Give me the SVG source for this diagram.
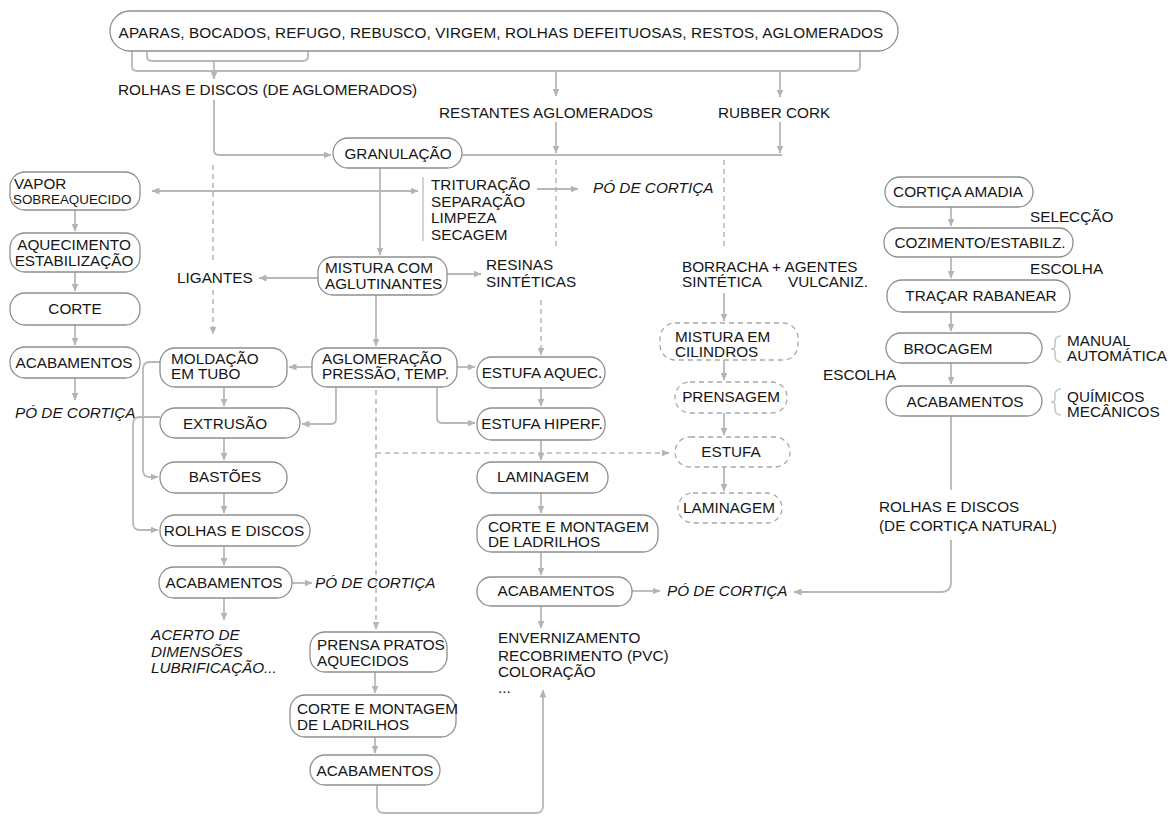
<svg xmlns="http://www.w3.org/2000/svg" width="1173" height="816" viewBox="0 0 1173 816">
<defs>
<marker id="ah" markerWidth="8" markerHeight="7" refX="7.5" refY="3.5" orient="auto-start-reverse" markerUnits="userSpaceOnUse">
<path d="M0,0 L8,3.5 L0,7 z" fill="#b4b4b4"/>
</marker>
<style>
.bx{fill:#fff;stroke:#8e8e8e;stroke-width:1.3}
.dbx{fill:#fff;stroke:#a8a8a8;stroke-width:1.3;stroke-dasharray:5 4}
.c{fill:none;stroke:#b8b8b8;stroke-width:1.8}
.d{fill:none;stroke:#b8b8b8;stroke-width:1.6;stroke-dasharray:5 4}
.br{fill:none;stroke:#c8c8c8;stroke-width:1.6}
text{font-family:"Liberation Sans",Arial,sans-serif;font-size:15.3px;fill:#161616}
.m{text-anchor:middle}
.i{font-style:italic}
.s{font-size:13.4px}
.w{letter-spacing:0.12px}
</style>
</defs>
<rect width="1173" height="816" fill="#fff"/>

<g id="connectors">
<path class="c" d="M147,42 V56 Q147,61 152,61 H303 Q308,61 308,56 V42"/>
<path class="c" d="M132,44 V66 Q132,71 137,71 H855 Q860,71 860,66 V50"/>
<path class="c" d="M214,61 V79" marker-end="url(#ah)"/>
<path class="c" d="M214,100 V150 Q214,155 219,155 H331" marker-end="url(#ah)"/>
<path class="c" d="M556,71 V96" marker-end="url(#ah)"/>
<path class="c" d="M780,71 V97" marker-end="url(#ah)"/>
<path class="c" d="M556,122 V153" marker-end="url(#ah)"/>
<path class="c" d="M780,122 V153" marker-end="url(#ah)"/>
<path class="c" d="M462,155 H782"/>
<path class="d" d="M556,160 V248"/>
<path class="d" d="M724,160 V250"/>
<path class="d" d="M213,165 V262"/>
<path class="d" d="M213,290 V334" marker-end="url(#ah)"/>
<path class="d" d="M541,300 V355" marker-end="url(#ah)"/>
<path class="c" d="M380,168 V255" marker-end="url(#ah)"/>
<path class="c" d="M418,191 H152" marker-start="url(#ah)" marker-end="url(#ah)"/>
<path class="br" d="M423,177 V241"/>
<path class="c" d="M537,189 H578" marker-end="url(#ah)"/>
<path class="c" d="M75,210 V231" marker-end="url(#ah)"/>
<path class="c" d="M75,272 V291" marker-end="url(#ah)"/>
<path class="c" d="M75,325 V345" marker-end="url(#ah)"/>
<path class="c" d="M75,378 V400" marker-end="url(#ah)"/>
<path class="c" d="M318,278 H259" marker-end="url(#ah)"/>
<path class="c" d="M447,274 H481" marker-end="url(#ah)"/>
<path class="c" d="M376,295 V346" marker-end="url(#ah)"/>
<path class="c" d="M312,367 H289" marker-end="url(#ah)"/>
<path class="c" d="M336,387 V419 Q336,424 331,424 H302" marker-end="url(#ah)"/>
<path class="c" d="M457,367 H475" marker-end="url(#ah)"/>
<path class="c" d="M437,387 V418 Q437,423 442,423 H475" marker-end="url(#ah)"/>
<path class="d" d="M376,390 V629" marker-end="url(#ah)"/>
<path class="d" d="M376,453 H669" marker-end="url(#ah)"/>
<path class="c" d="M224,387 V406" marker-end="url(#ah)"/>
<path class="c" d="M224,438 V460" marker-end="url(#ah)"/>
<path class="c" d="M224,493 V513" marker-end="url(#ah)"/>
<path class="c" d="M224,546 V565" marker-end="url(#ah)"/>
<path class="c" d="M224,598 V620" marker-end="url(#ah)"/>
<path class="c" d="M160,362 H150 Q143,362 143,369 V470 Q143,477 150,477 H158" marker-end="url(#ah)"/>
<path class="c" d="M160,417 H140 Q133,417 133,424 V523 Q133,530 140,530 H158" marker-end="url(#ah)"/>
<path class="c" d="M292,583 H312" marker-end="url(#ah)"/>
<path class="c" d="M541,388 V406" marker-end="url(#ah)"/>
<path class="c" d="M541,440 V460" marker-end="url(#ah)"/>
<path class="c" d="M541,493 V513" marker-end="url(#ah)"/>
<path class="c" d="M541,552 V575" marker-end="url(#ah)"/>
<path class="c" d="M541,606 V628" marker-end="url(#ah)"/>
<path class="c" d="M632,591 H660" marker-end="url(#ah)"/>
<path class="c" d="M375,672 V693" marker-end="url(#ah)"/>
<path class="c" d="M375,737 V753" marker-end="url(#ah)"/>
<path class="c" d="M377,785 V806 Q377,813 384,813 H536 Q543,813 543,806 V690" marker-end="url(#ah)"/>
<path class="c" d="M724,293 V321" marker-end="url(#ah)"/>
<path class="c" d="M724,360 V380" marker-end="url(#ah)"/>
<path class="c" d="M724,413 V435" marker-end="url(#ah)"/>
<path class="c" d="M724,467 V491" marker-end="url(#ah)"/>
<path class="c" d="M951,207 V226" marker-end="url(#ah)"/>
<path class="c" d="M951,257 V278" marker-end="url(#ah)"/>
<path class="c" d="M951,312 V331" marker-end="url(#ah)"/>
<path class="c" d="M951,363 V384" marker-end="url(#ah)"/>
<path class="c" d="M951,416 V490"/>
<path class="c" d="M951,540 V582 Q951,592 941,592 H794" marker-end="url(#ah)"/>
<path class="br" d="M1061,336 Q1055,336 1055,342 V346 Q1055,349 1051,349 Q1055,349 1055,352 V356 Q1055,362 1061,362"/>
<path class="br" d="M1061,389 Q1055,389 1055,395 V399 Q1055,402 1051,402 Q1055,402 1055,405 V409 Q1055,415 1061,415"/>
</g>

<g id="n-top"><rect class="bx" x="110" y="11" width="788" height="40" rx="20"/>
<text class="m w" x="501" y="38">APARAS, BOCADOS, REFUGO, REBUSCO, VIRGEM, ROLHAS DEFEITUOSAS, RESTOS, AGLOMERADOS</text></g>
<g id="l-rolhas-aglom"><text x="118" y="95">ROLHAS E DISCOS (DE AGLOMERADOS)</text></g>
<g id="l-restantes"><text x="439" y="118">RESTANTES AGLOMERADOS</text></g>
<g id="l-rubber"><text x="718" y="118">RUBBER CORK</text></g>
<g id="n-granulacao"><rect class="bx" x="333" y="138" width="129" height="30" rx="15"/>
<text class="m" x="398" y="159">GRANULAÇÃO</text></g>
<g id="n-vapor"><rect class="bx" x="10" y="172" width="130" height="38" rx="15"/>
<text x="14" y="189">VAPOR</text><text class="s" x="13" y="204">SOBREAQUECIDO</text></g>
<g id="n-aquecimento"><rect class="bx" x="10" y="233" width="130" height="39" rx="15"/>
<text class="m" x="74" y="250">AQUECIMENTO</text><text class="m" x="74" y="266">ESTABILIZAÇÃO</text></g>
<g id="n-corte"><rect class="bx" x="10" y="293" width="130" height="32" rx="15"/>
<text class="m" x="75" y="314">CORTE</text></g>
<g id="n-acab1"><rect class="bx" x="10" y="347" width="130" height="31" rx="15"/>
<text class="m" x="74" y="368">ACABAMENTOS</text></g>
<g id="l-po1"><text class="i" x="15" y="418">PÓ DE CORTIÇA</text></g>
<g id="l-trituracao"><text x="431" y="190">TRITURAÇÃO</text><text x="431" y="207">SEPARAÇÃO</text><text x="431" y="223">LIMPEZA</text><text x="431" y="240">SECAGEM</text></g>
<g id="l-po2"><text class="i" x="593" y="193">PÓ DE CORTIÇA</text></g>
<g id="l-ligantes"><text x="177" y="283">LIGANTES</text></g>
<g id="n-mistura"><rect class="bx" x="318" y="257" width="129" height="38" rx="15"/>
<text x="325" y="273">MISTURA COM</text><text x="325" y="289">AGLUTINANTES</text></g>
<g id="l-resinas"><text x="486" y="270">RESINAS</text><text x="486" y="287">SINTÉTICAS</text></g>
<g id="l-borracha"><text x="682" y="272">BORRACHA + AGENTES</text><text x="682" y="287">SINTÉTICA</text><text x="788" y="287">VULCANIZ.</text></g>
<g id="n-aglom"><rect class="bx" x="312" y="348" width="145" height="39" rx="15"/>
<text x="322" y="364">AGLOMERAÇÃO</text><text x="322" y="379">PRESSÃO, TEMP.</text></g>
<g id="n-moldacao"><rect class="bx" x="160" y="348" width="127" height="39" rx="15"/>
<text x="171" y="364">MOLDAÇÃO</text><text x="171" y="379">EM TUBO</text></g>
<g id="n-extrusao"><rect class="bx" x="160" y="408" width="140" height="30" rx="15"/>
<text class="m" x="225" y="429">EXTRUSÃO</text></g>
<g id="n-bastoes"><rect class="bx" x="160" y="462" width="127" height="31" rx="15"/>
<text class="m" x="225" y="482">BASTÕES</text></g>
<g id="n-rolhas"><rect class="bx" x="160" y="515" width="150" height="31" rx="15"/>
<text class="m" x="234" y="536">ROLHAS E DISCOS</text></g>
<g id="n-acab2"><rect class="bx" x="159" y="567" width="133" height="31" rx="15"/>
<text class="m" x="224" y="588">ACABAMENTOS</text></g>
<g id="l-po3"><text class="i" x="315" y="588">PÓ DE CORTIÇA</text></g>
<g id="l-acerto"><text class="i" x="151" y="640">ACERTO DE</text><text class="i" x="151" y="657">DIMENSÕES</text><text class="i" x="151" y="673">LUBRIFICAÇÃO...</text></g>
<g id="n-prensa"><rect class="bx" x="310" y="632" width="137" height="40" rx="15"/>
<text x="317" y="650">PRENSA PRATOS</text><text x="317" y="666">AQUECIDOS</text></g>
<g id="n-corte2"><rect class="bx" x="290" y="695" width="166" height="42" rx="15"/>
<text x="297" y="714">CORTE E MONTAGEM</text><text x="297" y="730">DE LADRILHOS</text></g>
<g id="n-acab3"><rect class="bx" x="310" y="755" width="130" height="30" rx="15"/>
<text class="m" x="375" y="776">ACABAMENTOS</text></g>
<g id="n-estufaaq"><rect class="bx" x="477" y="357" width="128" height="31" rx="15"/>
<text class="m" x="542" y="378">ESTUFA AQUEC.</text></g>
<g id="n-estufahip"><rect class="bx" x="477" y="408" width="128" height="32" rx="15"/>
<text class="m" x="542" y="429">ESTUFA HIPERF.</text></g>
<g id="n-lamin"><rect class="bx" x="477" y="462" width="131" height="31" rx="15"/>
<text class="m" x="543" y="482">LAMINAGEM</text></g>
<g id="n-corte3"><rect class="bx" x="477" y="515" width="181" height="37" rx="15"/>
<text x="488" y="532">CORTE E MONTAGEM</text><text x="488" y="547">DE LADRILHOS</text></g>
<g id="n-acab4"><rect class="bx" x="477" y="577" width="155" height="29" rx="14"/>
<text class="m" x="556" y="596">ACABAMENTOS</text></g>
<g id="l-po4"><text class="i" x="667" y="596">PÓ DE CORTIÇA</text></g>
<g id="l-envern"><text x="498" y="643">ENVERNIZAMENTO</text><text x="498" y="661">RECOBRIMENTO (PVC)</text><text x="498" y="677">COLORAÇÃO</text><text x="498" y="693">...</text></g>
<g id="n-mistcil"><rect class="dbx" x="660" y="323" width="138" height="37" rx="15"/>
<text x="675" y="342">MISTURA EM</text><text x="675" y="357">CILINDROS</text></g>
<g id="n-prensagem"><rect class="dbx" x="675" y="382" width="112" height="31" rx="15"/>
<text class="m" x="731" y="402">PRENSAGEM</text></g>
<g id="n-estufa"><rect class="dbx" x="675" y="437" width="115" height="30" rx="15"/>
<text class="m" x="731" y="457">ESTUFA</text></g>
<g id="n-lamin2"><rect class="dbx" x="678" y="493" width="104" height="30" rx="15"/>
<text class="m" x="729" y="513">LAMINAGEM</text></g>
<g id="n-amadia"><rect class="bx" x="885" y="177" width="148" height="30" rx="15"/>
<text class="m" x="958" y="197">CORTIÇA AMADIA</text></g>
<g id="l-seleccao"><text x="1030" y="222">SELECÇÃO</text></g>
<g id="n-cozimento"><rect class="bx" x="884" y="228" width="189" height="29" rx="14"/>
<text class="m" x="980" y="248">COZIMENTO/ESTABILZ.</text></g>
<g id="l-escolha1"><text x="1030" y="274">ESCOLHA</text></g>
<g id="n-tracar"><rect class="bx" x="887" y="280" width="183" height="32" rx="15"/>
<text class="m" x="981" y="301">TRAÇAR RABANEAR</text></g>
<g id="n-brocagem"><rect class="bx" x="886" y="333" width="156" height="30" rx="15"/>
<text class="m" x="948" y="354">BROCAGEM</text></g>
<g id="l-manual"><text x="1067" y="346">MANUAL</text><text x="1067" y="361">AUTOMÁTICA</text></g>
<g id="l-escolha2"><text x="823" y="380">ESCOLHA</text></g>
<g id="n-acab5"><rect class="bx" x="886" y="386" width="156" height="30" rx="15"/>
<text class="m" x="965" y="407">ACABAMENTOS</text></g>
<g id="l-quimicos"><text x="1067" y="402">QUÍMICOS</text><text x="1067" y="417">MECÂNICOS</text></g>
<g id="l-rolhas-nat"><text x="879" y="512">ROLHAS E DISCOS</text><text x="879" y="531">(DE CORTIÇA NATURAL)</text></g>
</svg>
